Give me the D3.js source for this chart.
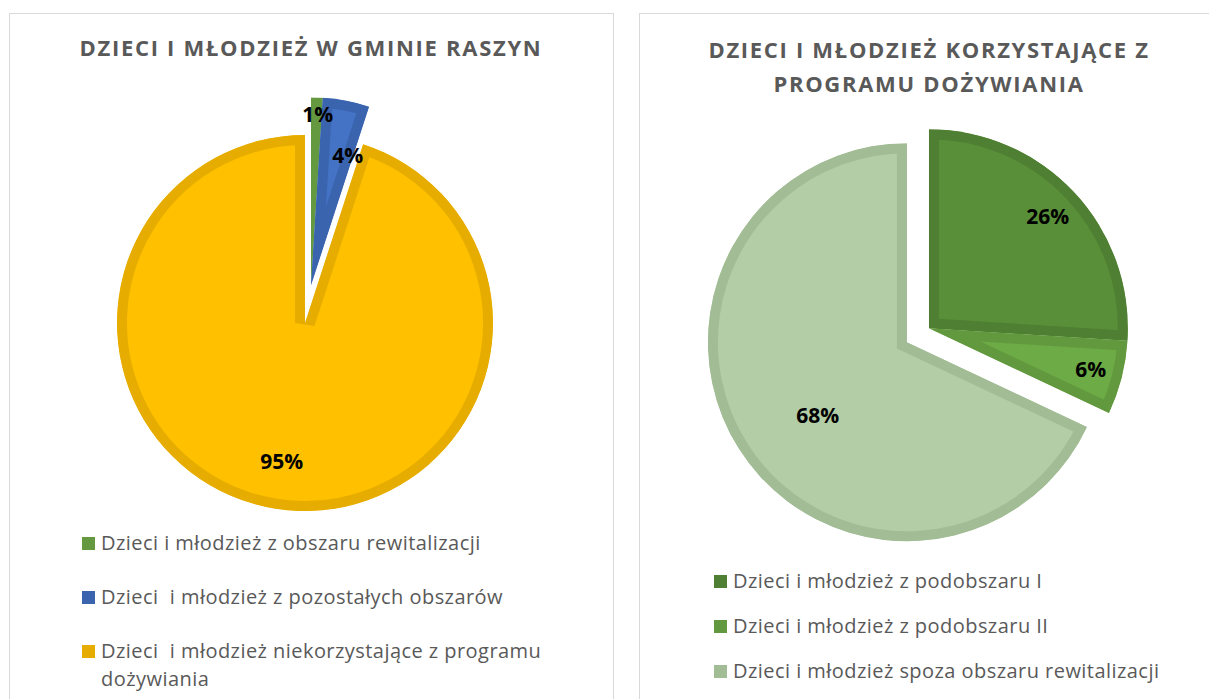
<!DOCTYPE html>
<html>
<head>
<meta charset="utf-8">
<script src="https://cdn.jsdelivr.net/npm/d3@7"></script>
<style>
  body { margin: 0; background: #fff; }
  svg text { font-family: "Open Sans", "Noto Sans", sans-serif; white-space: pre; }
</style>
</head>
<body>
<svg id="chart" width="1209" height="699"></svg>
<script>
// Chart 1: all children in the commune
var raszynCategories = [
  'Dzieci i młodzież z obszaru rewitalizacji',
  'Dzieci  i młodzież z pozostałych obszarów',
  'Dzieci  i młodzież niekorzystające z programu dożywiania'
];
var raszynValues = [1, 4, 95];

// Chart 2: children using the meal programme
var programCategories = [
  'Dzieci i młodzież z podobszaru I',
  'Dzieci i młodzież z podobszaru II',
  'Dzieci i młodzież spoza obszaru rewitalizacji'
];
var programValues = [26, 6, 68];

var svg = d3.select('#chart');

// panel frames
svg.append('rect').attr('x', 9.5).attr('y', 13.5).attr('width', 604).attr('height', 700)
  .attr('fill', 'none').attr('stroke', '#d9d9d9');
svg.append('rect').attr('x', 639.5).attr('y', 13.5).attr('width', 600).attr('height', 700)
  .attr('fill', 'none').attr('stroke', '#d9d9d9');

var clipId = 0;

function drawPie(opts) {
  var g = svg.append('g');

  // title
  var title = g.append('text')
    .attr('text-anchor', 'middle')
    .attr('fill', '#595959')
    .style('font-size', '22px')
    .style('font-weight', 700)
    .style('letter-spacing', '1.7px');
  opts.title.forEach(function(line, i) {
    title.append('tspan').attr('x', opts.titleX).attr('y', opts.titleY + i * 34).text(line);
  });

  var pie = d3.pie().sort(null).value(function(d) { return d; });
  var arcs = pie(opts.values);
  var arc = d3.arc().innerRadius(0).outerRadius(opts.r);

  // explosion offset per slice
  function offset(i) {
    var ex = opts.explode[i];
    if (!ex) return [0, 0];
    var a0 = arcs[ex.from].startAngle, a1 = arcs[ex.to].endAngle;
    var a = (a0 + a1) / 2;
    return [Math.sin(a) * ex.d, -Math.cos(a) * ex.d];
  }

  arcs.forEach(function(d, i) {
    var o = offset(i);
    var sg = g.append('g')
      .attr('transform', 'translate(' + (opts.cx + o[0]) + ',' + (opts.cy + o[1]) + ')');
    var id = 'clip' + (clipId++);
    sg.append('clipPath').attr('id', id).append('path').attr('d', arc(d));
    sg.append('path')
      .attr('d', arc(d))
      .attr('fill', opts.fills[i])
      .attr('stroke', opts.strokes[i])
      .attr('stroke-width', 20)
      .attr('stroke-linejoin', 'miter')
      .attr('clip-path', 'url(#' + id + ')');
  });

  // data labels
  arcs.forEach(function(d, i) {
    var o = offset(i);
    var lab = opts.labels[i];
    var a = (d.startAngle + d.endAngle) / 2 + lab.da * Math.PI / 180;
    var rr = opts.r * lab.rf;
    g.append('text')
      .attr('x', opts.cx + o[0] + Math.sin(a) * rr)
      .attr('y', opts.cy + o[1] - Math.cos(a) * rr)
      .attr('text-anchor', 'middle')
      .attr('dy', '0.35em')
      .attr('fill', '#000')
      .style('font-size', '21px')
      .style('font-weight', 700)
      .text(d3.format('.0%')(d.value / d3.sum(opts.values)));
  });

  // legend
  var lg = g.append('g');
  var y = opts.legendY;
  opts.categories.forEach(function(c, i) {
    lg.append('rect')
      .attr('x', opts.legendX).attr('y', y - 6)
      .attr('width', 13).attr('height', 13)
      .attr('fill', opts.strokes[i]);
    var t = lg.append('text')
      .attr('fill', '#595959')
      .style('font-size', '20px')
      .style('letter-spacing', '0.45px');
    // simple word wrap
    var words = c.split(' '), line = '', lines = [];
    words.forEach(function(w) {
      var test = line ? line + ' ' + w : w;
      if (test.length > opts.wrap && line) { lines.push(line); line = w; }
      else line = test;
    });
    lines.push(line);
    lines.forEach(function(l, k) {
      t.append('tspan')
        .attr('x', opts.legendX + 19)
        .attr('y', y + k * 28)
        .attr('dy', '0.35em')
        .text(l);
    });
    y += opts.legendStep + (lines.length - 1) * 28;
  });
}

drawPie({
  title: ['DZIECI I MŁODZIEŻ W GMINIE RASZYN'],
  titleX: 311, titleY: 56,
  values: raszynValues,
  categories: raszynCategories,
  cx: 305, cy: 323, r: 188,
  fills: ['#70ad47', '#4472c4', '#ffc000'],
  strokes: ['#64993f', '#3a64ae', '#e6ad00'],
  explode: {0: {from: 0, to: 1, d: 38}, 1: {from: 0, to: 1, d: 38}},
  labels: [{rf: 0.91, da: 0.5}, {rf: 0.72, da: 5}, {rf: 0.75, da: 0.5}],
  legendX: 82, legendY: 543, legendStep: 54, wrap: 46
});

drawPie({
  title: ['DZIECI I MŁODZIEŻ KORZYSTAJĄCE Z', 'PROGRAMU DOŻYWIANIA'],
  titleX: 929, titleY: 58,
  values: programValues,
  categories: programCategories,
  cx: 912, cy: 339, r: 199,
  fills: ['#588f38', '#6cab45', '#b3cda7'],
  strokes: ['#4f7f32', '#62993e', '#a2bd95'],
  explode: {0: {from: 0, to: 1, d: 20}, 1: {from: 0, to: 1, d: 20}, 2: {from: 2, to: 2, d: 6}},
  labels: [{rf: 0.82, da: 0}, {rf: 0.84, da: 0}, {rf: 0.58, da: -7}],
  legendX: 714, legendY: 581, legendStep: 45, wrap: 60
});
</script>
</body>
</html>
